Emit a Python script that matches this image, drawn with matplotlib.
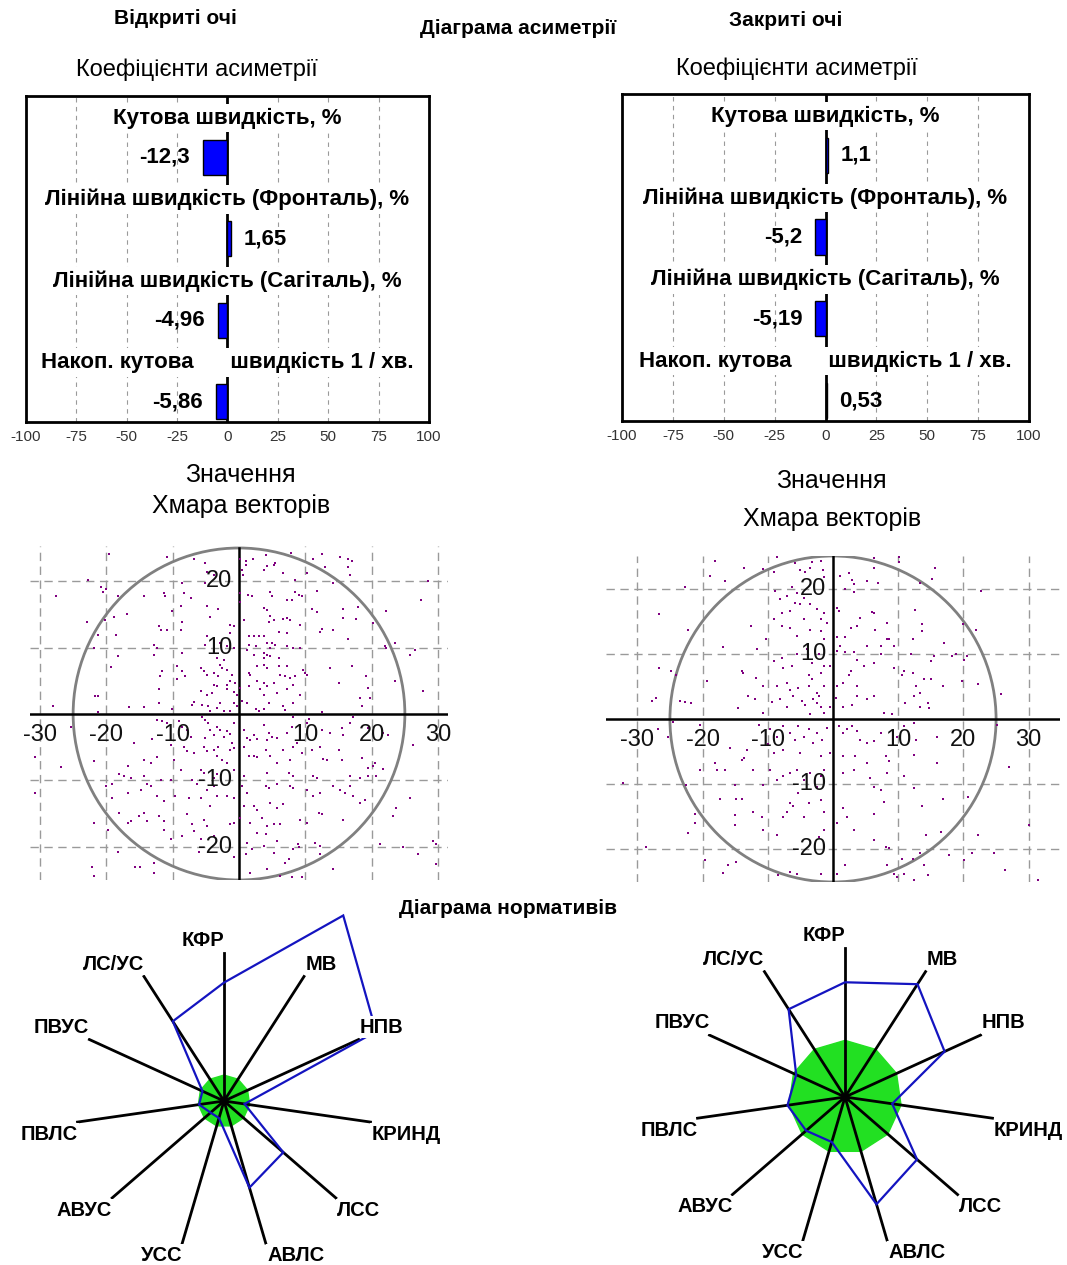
import matplotlib
matplotlib.use('Agg')
import matplotlib.pyplot as plt
import numpy as np
from matplotlib.patches import Circle, Polygon

plt.rcParams['font.family'] = ['Liberation Sans', 'DejaVu Sans']
plt.rcParams['axes.unicode_minus'] = False

W, H = 1067, 1265
fig = plt.figure(figsize=(W / 100, H / 100), dpi=100)


def px_axes(left, top, width, height):
    return fig.add_axes([left / W, 1 - (top + height) / H, width / W, height / H])


# ---------------- data ----------------
bar_categories = ['Кутова швидкість, %',
                  'Лінійна швидкість (Фронталь), %',
                  'Лінійна швидкість (Сагіталь), %',
                  'Накоп. кутова      швидкість 1 / хв.']
open_values = [-12.3, 1.65, -4.96, -5.86]
closed_values = [1.1, -5.2, -5.19, 0.53]
bar_ticks = [-100, -75, -50, -25, 0, 25, 50, 75, 100]

cloud_ticks_x = [-30, -20, -10, 10, 20, 30]
cloud_ticks_y = [-20, -10, 10, 20]
circle_radius = 25

open_cloud = [
    (-19.6, 24.1), (-10.8, 23.7), (-6.8, 23.3), (-5.1, 22.7), (0.2, 23.4), (1.1, 23.1), (2.1, 23.3), (4.0, 24.0),
    (5.5, 22.7), (5.2, 22.4), (7.9, 24.3), (11.2, 23.3), (12.5, 24.1), (13.0, 22.2), (15.2, 23.7), (16.5, 23.3),
    (17.0, 23.1), (0.5, 21.7), (1.0, 22.4), (3.7, 21.7), (4.2, 22.3), (6.7, 21.3), (16.5, 22.2), (16.7, 20.9),
    (-4.8, 21.4), (-1.6, 21.3), (-3.8, 20.9), (-5.1, 19.7), (0.6, 20.9), (8.5, 20.2), (10.2, 21.2), (14.1, 19.8),
    (-22.8, 20.2), (-20.8, 19.2), (-20.1, 18.8), (-20.5, 18.4), (-27.6, 17.8), (-18.3, 17.8), (-14.3, 17.8),
    (-11.3, 18.2), (-11.2, 17.8), (-8.6, 19.7), (-8.3, 18.2), (-7.3, 17.4), (0.2, 18.2), (1.3, 17.9), (2.0, 17.7),
    (4.7, 18.4), (5.0, 17.7), (8.5, 18.4), (9.0, 17.9), (9.5, 17.8), (11.7, 18.5), (28.5, 20.1), (27.5, 17.1),
    (-10.1, 15.5), (-8.8, 16.2), (-4.8, 16.2), (-3.1, 15.8), (-4.3, 14.6), (0.2, 16.9), (3.7, 15.9), (4.2, 15.7),
    (7.2, 17.2), (8.0, 17.1), (11.0, 15.8), (11.7, 15.4), (15.6, 15.8), (18.0, 16.1), (22.2, 15.5), (-16.9, 15.1),
    (-18.8, 14.6), (-22.9, 13.9), (-20.2, 14.1), (-8.6, 13.9), (-1.3, 13.4), (-0.8, 13.2), (0.7, 14.1), (4.7, 14.7),
    (5.2, 14.2), (6.7, 14.3), (7.2, 14.4), (7.7, 14.2), (4.5, 13.9), (9.2, 13.4), (15.7, 14.4), (17.7, 14.3),
    (20.2, 13.7),
    (-21.3, 11.9), (-18.6, 11.9), (-12.1, 13.2), (-11.8, 12.7), (-10.9, 12.7), (-8.8, 12.7), (-1.4, 12.2),
    (1.5, 11.7), (2.2, 11.8), (3.0, 11.7), (3.7, 11.7), (6.0, 12.4), (7.2, 12.2), (12.2, 12.4), (12.5, 12.8),
    (14.2, 12.6), (-4.8, 11.7), (-5.1, 10.4), (-12.8, 10.4), (-12.3, 9.9), (-21.8, 9.9), (-18.3, 8.7), (-2.8, 10.7),
    (-3.8, 9.8), (-1.8, 10.2), (-0.8, 9.9), (1.5, 10.4), (2.5, 10.2), (4.2, 10.7), (5.0, 10.7), (5.5, 10.4),
    (4.7, 9.9), (2.2, 8.9), (3.7, 9.2), (4.2, 8.9), (4.7, 8.8), (3.7, 8.4), (7.2, 10.2), (8.2, 9.9), (9.2, 9.9),
    (16.5, 11.3), (22.0, 10.2), (23.5, 10.7), (22.2, 9.9), (26.5, 9.7), (25.7, 8.9), (-8.6, 9.2), (-12.8, 8.9),
    (-3.3, 8.4), (-2.3, 8.2), (1.2, 9.7), (6.0, 8.4),
    (-19.3, 7.1), (-9.3, 7.2), (-5.8, 6.9), (-5.3, 6.4), (-2.8, 7.4), (-2.6, 6.9), (-3.8, 6.2), (-4.8, 5.8),
    (-3.1, 5.7), (-1.8, 6.7), (-1.1, 5.9), (1.5, 6.2), (1.7, 5.9), (2.7, 7.2), (3.7, 7.4), (4.2, 6.9), (6.0, 7.2),
    (7.2, 7.2), (6.2, 5.9), (7.0, 5.7), (7.7, 5.4), (8.5, 5.7), (9.7, 6.7), (10.0, 6.2), (10.2, 5.9), (13.7, 6.9),
    (17.0, 7.2), (19.2, 5.7), (-11.6, 6.4), (-11.9, 5.7), (-8.6, 6.4), (-8.1, 5.7), (-9.3, 5.2), (-3.8, 4.4),
    (-3.3, 4.2), (-1.8, 4.3), (-1.3, 4.9), (-0.6, 4.7), (0.2, 3.9), (1.5, 4.2), (2.7, 4.9), (3.7, 4.7), (4.2, 4.2),
    (5.2, 4.7), (8.2, 4.4), (15.0, 4.6), (19.5, 3.9), (23.5, 4.9), (-21.7, 2.7), (-21.3, 2.7), (-12.1, 3.7),
    (-5.8, 3.4), (-4.8, 2.9), (-4.1, 3.2), (-1.8, 3.7), (-0.8, 3.3), (-0.3, 2.9), (3.2, 3.7), (3.7, 2.9),
    (5.7, 3.2), (7.2, 3.7), (9.2, 2.9), (27.7, 3.4), (19.7, 2.4),
    (-28.1, 1.2), (-16.6, 1.0), (-14.3, 1.0), (-12.1, 1.7), (-10.1, 0.7), (-7.1, 1.4), (-6.8, 1.8), (-5.6, 1.4),
    (-4.6, 1.2), (-4.3, 0.4), (-3.3, 0.9), (-2.8, 1.7), (-2.3, 0.4), (-1.3, 0.4), (-0.8, 1.7), (-0.3, 1.2),
    (0.5, 1.9), (1.2, 1.7), (2.5, 0.7), (3.0, 0.4), (3.7, 0.7), (4.5, 1.7), (6.7, 1.2), (7.0, 0.6), (8.2, 1.7),
    (12.5, 0.3), (18.2, 2.4), (18.5, 1.2), (-21.3, 0.3),
    (-25.3, -2.0), (-12.3, -0.9), (-11.6, -1.1), (-10.8, -1.4), (-9.1, -1.1), (-8.6, -1.9), (-7.8, -2.4),
    (-7.3, -3.4), (-5.6, -0.4), (-5.1, -0.9), (-4.6, -1.4), (-4.3, -2.4), (-5.1, -3.6), (-3.8, -3.1), (-3.3, -1.9),
    (-2.8, -2.4), (-2.3, -3.4), (-1.8, -2.6), (-1.3, -3.0), (-0.8, -1.4), (-1.1, -4.4), (0.7, -2.4), (1.2, -3.6),
    (1.7, -3.9), (2.2, -3.1), (2.7, -3.8), (3.7, -1.6), (4.5, -2.9), (5.0, -3.4), (4.2, -3.9), (5.7, -3.6),
    (7.2, -2.9), (8.0, -1.9), (8.2, -0.4), (8.7, -4.4), (10.2, -1.4), (10.5, -0.8), (12.5, -2.4), (13.7, -2.9),
    (15.5, -2.1), (15.7, -3.1), (16.7, -1.4), (17.2, -0.4), (19.5, -2.1), (21.7, -2.9), (22.5, -3.1), (26.2, -4.6),
    (-15.8, -4.4), (-10.3, -4.6), (-13.1, -3.8), (-30.7, -6.5), (-26.8, -8.0),
    (-8.3, -4.9), (-7.8, -5.6), (-6.8, -5.9), (-5.3, -4.9), (-4.8, -5.6), (-3.8, -5.4), (-3.1, -4.9), (-3.3, -6.4),
    (-2.6, -6.9), (-1.8, -7.4), (-1.3, -5.4), (-0.8, -5.1), (0.7, -4.9), (1.5, -6.4), (2.2, -6.4), (2.7, -6.5),
    (4.0, -5.4), (4.7, -6.4), (5.7, -7.4), (6.7, -5.4), (8.2, -4.9), (7.7, -6.9), (9.5, -5.9), (11.0, -5.4),
    (12.2, -4.9), (12.7, -6.8), (13.2, -6.9), (15.0, -5.4), (15.5, -6.9), (18.5, -6.6), (19.5, -8.1), (20.2, -7.8),
    (21.7, -8.3), (20.5, -7.4), (-21.8, -7.1), (-16.8, -7.9), (-14.3, -6.9), (-13.3, -7.4), (-12.3, -6.5),
    (-9.8, -6.9), (-8.8, -8.4), (-5.8, -8.4), (-5.3, -8.9), (-3.8, -9.6), (-3.3, -9.1), (-0.8, -8.4), (0.7, -9.4),
    (4.2, -8.9), (7.5, -8.9), (8.2, -9.4), (11.2, -9.4), (11.7, -9.6), (16.7, -9.4), (18.2, -9.6), (19.5, -9.4),
    (-30.8, -11.9), (-20.1, -10.9), (-19.1, -10.6), (-18.1, -9.1), (-17.3, -9.4), (-16.3, -9.6), (-13.8, -10.6),
    (-13.3, -10.8), (-14.3, -9.4), (-11.8, -9.9), (-10.3, -9.9), (-7.1, -9.9), (-6.3, -10.6), (-5.8, -12.6),
    (-4.8, -11.4), (-3.8, -10.9), (-3.3, -12.4), (-1.8, -12.4), (-0.8, -12.6), (0.5, -10.9), (1.2, -11.9),
    (4.0, -10.9), (4.5, -11.1), (5.7, -10.6), (7.7, -10.9), (8.2, -11.1), (10.2, -11.4), (11.2, -12.4),
    (12.2, -11.9), (14.2, -10.9), (15.2, -11.4), (16.0, -11.9), (16.7, -10.9), (17.2, -12.4), (20.7, -9.4),
    (25.7, -12.6), (-19.1, -12.6), (-16.8, -11.9), (-14.8, -11.4), (-12.3, -12.4), (-11.3, -13.1), (-9.6, -12.4),
    (-7.6, -12.6), (-4.3, -13.9), (0.7, -13.9), (2.2, -13.9), (2.7, -14.4), (4.7, -13.4), (5.7, -14.1),
    (6.7, -13.6), (12.0, -14.9), (12.5, -15.1), (18.2, -13.4), (19.0, -12.9), (23.7, -14.1), (23.2, -15.4),
    (-18.1, -14.9), (-16.8, -16.4), (-16.3, -16.1), (-15.1, -15.4), (-14.3, -14.9), (-13.8, -16.1), (-12.1, -15.4),
    (-11.3, -16.1), (-7.8, -15.1), (-7.1, -16.6), (-6.8, -17.6), (-5.3, -15.9), (-4.8, -16.9), (-1.3, -16.6),
    (-0.8, -16.4), (0.2, -15.6), (1.7, -16.4), (3.5, -15.6), (4.2, -16.9), (5.2, -16.6), (6.2, -16.6), (9.2, -15.9),
    (10.2, -16.4), (15.7, -15.9), (-19.8, -17.4), (-21.8, -16.4), (-11.3, -17.4), (-10.2, -18.9), (-8.6, -18.4),
    (-5.8, -18.9), (-3.8, -18.4), (2.7, -17.9), (4.0, -18.1), (1.2, -19.4), (5.7, -19.1), (8.9, -19.6),
    (9.0, -20.1), (11.5, -19.4), (12.2, -19.9), (21.2, -19.6), (29.2, -19.1), (29.7, -19.6), (24.7, -20.1),
    (-18.3, -20.8), (-22.1, -23.1), (-21.8, -24.4), (-15.6, -23.1), (-14.9, -23.1), (-12.8, -22.4), (-6.1, -20.8),
    (-0.8, -21.6), (1.0, -21.1), (2.0, -20.4), (3.7, -19.9), (5.2, -20.9), (7.0, -22.4), (7.5, -21.9), (8.2, -20.4),
    (9.5, -24.6), (12.2, -21.1), (14.2, -23.4), (27.0, -21.1), (29.7, -22.6), (1.7, -23.9), (4.2, -23.4),
    (6.2, -24.4), (8.0, -24.6), (-12.8, -23.9),
]

closed_cloud = [
    (-18.1, 24.3), (-13.7, 23.1), (-10.7, 23.0), (-9.1, 22.6), (-8.6, 24.8), (-5.8, 24.0), (-5.0, 22.9),
    (-4.3, 22.5), (-3.5, 23.1), (-3.2, 24.1), (-1.9, 24.3), (-1.5, 22.9), (-1.4, 21.8), (1.0, 21.9), (2.4, 22.4),
    (2.9, 21.3), (3.2, 20.7), (1.9, 19.9), (3.2, 19.5), (5.2, 21.2), (6.3, 23.1), (6.3, 24.7), (6.9, 20.9),
    (10.1, 24.8), (10.1, 24.1), (13.4, 20.9), (15.7, 23.1), (15.2, 21.5), (22.7, 19.6), (-16.6, 21.2),
    (-18.9, 21.9), (-22.7, 20.3), (-26.7, 16.1),
    (-8.9, 19.6), (-8.1, 18.4), (-7.1, 18.9), (-6.3, 20.2), (-5.5, 19.4), (-4.5, 18.6), (-5.8, 17.8), (-5.0, 17.6),
    (-3.5, 17.6), (-2.5, 16.8), (-1.4, 16.3), (-7.8, 16.3), (-6.6, 16.6), (-4.5, 15.3), (-1.9, 15.3), (-0.9, 14.8),
    (-9.1, 15.3), (-12.5, 14.3), (-10.2, 12.2), (-7.8, 14.3), (-6.6, 14.0), (-5.5, 12.7), (-3.5, 13.7),
    (-1.9, 13.5), (-1.4, 12.2), (0.6, 17.1), (0.9, 16.6), (4.2, 15.5), (2.7, 14.0), (3.7, 14.2), (6.0, 16.4),
    (6.3, 16.3), (8.3, 14.8), (6.5, 13.7), (12.5, 16.7), (13.7, 14.5), (13.7, 13.5), (20.0, 14.5), (21.9, 13.7),
    (8.3, 12.2), (8.6, 12.2), (12.2, 12.2), (-22.3, 13.7), (0.6, 12.5), (1.9, 12.5), (17.0, 11.7),
    (-16.9, 11.0), (-11.7, 10.7), (-9.1, 8.9), (-7.8, 9.4), (-7.6, 7.8), (-6.3, 8.1), (-5.5, 9.9), (-4.0, 10.7),
    (-3.2, 8.6), (-2.2, 9.9), (-1.4, 8.1), (-3.7, 6.8), (-3.2, 6.1), (-1.9, 7.1), (-0.4, 8.1), (0.6, 10.4),
    (1.1, 11.2), (1.9, 10.2), (3.2, 10.2), (2.4, 6.8), (2.7, 7.3), (3.7, 9.1), (4.7, 8.1), (5.2, 11.2), (6.3, 8.6),
    (7.3, 9.9), (7.3, 11.2), (9.3, 11.2), (9.3, 7.8), (10.6, 6.8), (10.9, 7.3), (12.2, 7.1), (11.9, 9.9),
    (15.0, 8.9), (15.5, 9.6), (18.3, 9.6), (18.8, 9.9), (20.6, 9.6), (20.1, 9.1), (16.8, 5.0), (15.0, 6.1),
    (19.8, 5.8), (22.2, 5.4), (13.9, 6.1), (12.7, 5.0), (13.4, 4.0), (-26.7, 7.8), (-24.8, 7.3), (-24.0, 6.8),
    (-19.3, 5.9), (-14.0, 7.3), (-13.8, 7.1), (-11.8, 6.3), (-10.7, 5.0), (-8.6, 5.0), (-7.1, 5.5), (-6.6, 4.5),
    (-5.3, 4.8), (-3.7, 5.0), (-2.5, 4.0), (-2.2, 3.5), (-1.4, 5.0), (0.6, 5.0), (1.6, 5.5), (3.7, 5.0), (6.3, 3.5),
    (-27.8, 2.7), (-27.1, 3.2), (-23.5, 2.7), (-22.7, 2.6), (-21.7, 2.4), (-14.5, 1.7), (-13.1, 3.6), (-11.9, 3.0),
    (-10.7, 0.9), (-9.4, 2.6), (-8.1, 3.0), (-7.1, 1.9), (-6.1, 3.5), (-4.8, 2.7), (-4.3, 2.2), (-3.5, 0.7),
    (-3.1, 3.0), (-2.5, 2.5), (-1.9, 1.9), (-1.4, 0.9), (-0.4, 1.9), (0.4, 3.2), (1.6, 1.9), (2.9, 2.2), (3.7, 3.5),
    (5.2, 3.0), (7.8, 0.9), (9.1, 0.8), (11.1, 2.5), (12.4, 3.5), (13.4, 1.9), (14.5, 2.5), (14.7, 1.7),
    (25.7, 3.9),
    (-24.5, -0.4), (-25.3, -2.7), (-26.8, -1.6), (-20.4, -0.9), (-11.4, -0.9), (-9.6, -1.6), (-8.6, -2.7),
    (-7.6, -1.1), (-6.6, -2.2), (-5.8, -3.2), (-5.3, -1.1), (-4.5, -2.7), (-3.7, -1.6), (-3.1, -3.7), (-2.5, -2.2),
    (-1.7, -3.2), (-0.9, -1.4), (0.9, -1.1), (1.6, -2.2), (2.2, -1.6), (2.9, -1.1), (3.7, -1.9), (4.2, -3.2),
    (5.2, -3.7), (6.3, -3.4), (7.3, -2.2), (9.8, -2.7), (10.9, -1.1), (12.4, -0.6), (12.7, -3.2), (16.0, -2.7),
    (25.2, -0.9), (-15.8, -4.5), (-13.2, -4.7), (-9.9, -3.9), (-9.1, -5.2), (-7.6, -4.7), (-5.0, -5.2),
    (-1.9, -5.7), (-0.4, -5.2), (1.6, -5.7), (3.4, -5.7), (5.2, -6.8), (8.1, -5.7), (8.6, -6.5), (12.4, -5.5),
    (16.0, -6.8), (27.0, -7.4),
    (-20.4, -7.8), (-18.1, -6.8), (-17.8, -7.8), (-16.6, -7.8), (-14.0, -6.3), (-13.7, -6.0), (-12.2, -7.8),
    (-9.6, -7.8), (-8.6, -9.3), (-7.6, -8.8), (-6.6, -8.3), (-5.5, -7.8), (-4.5, -9.3), (-3.5, -8.3),
    (-2.5, -10.4), (-1.9, -8.8), (-1.4, -7.8), (-5.3, -11.4), (-6.6, -12.9), (-7.1, -14.2), (-6.1, -13.4),
    (-3.7, -12.9), (-1.9, -12.4), (-1.4, -14.2), (1.6, -8.3), (3.2, -7.8), (5.7, -9.1), (6.3, -10.4), (7.3, -10.9),
    (8.3, -8.3), (10.9, -8.8), (12.4, -10.6), (13.7, -13.3), (16.8, -12.2), (20.7, -11.9), (1.6, -13.7),
    (2.2, -15.0), (7.8, -12.7), (6.3, -14.5), (-22.5, -10.1), (-32.2, -9.8), (-15.0, -10.1), (-14.8, -12.2),
    (-14.0, -12.2), (-10.7, -10.1), (-12.2, -14.2),
    (-21.2, -14.5), (-21.2, -16.0), (-22.2, -17.5), (-15.1, -14.7), (-15.1, -16.3), (-17.3, -12.2), (-10.9, -15.0),
    (-10.7, -17.0), (-8.6, -17.8), (-7.6, -15.0), (-4.5, -15.0), (-2.2, -18.1), (-1.4, -17.0), (0.6, -16.0),
    (3.2, -17.0), (6.3, -18.6), (8.1, -19.6), (8.6, -19.8), (10.6, -21.4), (12.2, -21.4), (13.4, -20.6),
    (14.2, -17.8), (16.5, -17.3), (17.8, -20.9), (20.1, -21.6), (21.3, -20.6), (22.2, -17.8), (24.7, -20.5),
    (26.3, -23.2), (30.1, -16.3), (31.4, -24.7), (-28.6, -19.6), (-19.6, -21.6), (-16.8, -23.6), (-16.1, -22.4),
    (-14.8, -21.9), (-8.4, -23.9), (-6.6, -23.4), (-5.5, -23.7), (-1.9, -23.7), (1.9, -22.4), (8.3, -22.4),
    (9.3, -23.7), (9.8, -24.2), (10.9, -23.7), (12.4, -24.7), (14.5, -23.9), (14.0, -22.4), (0.6, -23.7),
]

radar_labels = ['КФР', 'МВ', 'НПВ', 'КРИНД', 'ЛСС', 'АВЛС', 'УСС', 'АВУС', 'ПВЛС', 'ПВУС', 'ЛС/УС']
open_radar = [0.80, 1.49, 1.13, 0.14, 0.53, 0.61, 0.12, 0.12, 0.17, 0.16, 0.64]
closed_radar = [0.77, 0.90, 0.735, 0.32, 0.64, 0.75, 0.315, 0.345, 0.39, 0.36, 0.70]
open_norm = 0.175
closed_norm = 0.38

# ---------------- styles ----------------
BLUE_BAR = '#0000ff'
PURPLE = '#800080'
GRID = '#9a9a9a'
GREEN = '#22e022'
RADAR_BLUE = '#1414c0'


def fmt(v):
    return f'{v:g}'.replace('.', ',')


def bar_panel(left, top, width, height, values):
    ax = px_axes(left, top, width, height)
    n = len(values)
    ax.set_xlim(-100, 100)
    ax.set_ylim(n, 0)
    for g in bar_ticks:
        if g not in (-100, 0, 100):
            ax.axvline(g, color=GRID, lw=0.8, ls=(0, (4, 4)), zorder=1)
    ax.axvline(0, color='black', lw=2, zorder=2)
    for i, (cat, v) in enumerate(zip(bar_categories, values)):
        ax.text(0, i + 0.27, cat, ha='center', va='center', fontsize=16, fontweight='bold',
                zorder=5, bbox=dict(fc='white', ec='none', pad=2.5))
        ax.barh(i + 0.75, v, height=0.43, color=BLUE_BAR, edgecolor='black', lw=1.0, zorder=3)
        if v < 0:
            ax.annotate(fmt(v), (v, i + 0.75), xytext=(-9, 0), textcoords='offset points',
                        ha='right', va='center', fontsize=16, fontweight='bold', zorder=5)
        else:
            ax.annotate(fmt(v), (v, i + 0.75), xytext=(9, 0), textcoords='offset points',
                        ha='left', va='center', fontsize=16, fontweight='bold', zorder=5)
    ax.set_xticks(bar_ticks)
    ax.set_yticks([])
    ax.tick_params(axis='x', length=0, labelsize=11, labelcolor='#333333', pad=6)
    for s in ax.spines.values():
        s.set_linewidth(2)
    return ax


def scatter_panel(left, top, width, height, xlim, ylim, pts):
    ax = px_axes(left, top, width, height)
    ax.set_xlim(*xlim)
    ax.set_ylim(*ylim)
    ax.axis('off')
    for g in cloud_ticks_x:
        ax.plot([g, g], ylim, color=GRID, lw=1, ls=(0, (6, 4)), zorder=1)
    for g in cloud_ticks_y:
        ax.plot(xlim, [g, g], color=GRID, lw=1, ls=(0, (6, 4)), zorder=1)
    ax.plot(xlim, [0, 0], color='black', lw=1.8, zorder=3)
    ax.plot([0, 0], [-circle_radius, circle_radius], color='black', lw=1.8, zorder=3)
    ax.add_patch(Circle((0, 0), circle_radius, fill=False, ec='#808080', lw=2, zorder=2))
    arr = np.array(pts)
    ax.plot(arr[:, 0], arr[:, 1], 's', ms=1.9, mew=0, color=PURPLE, zorder=4)
    for g in cloud_ticks_x:
        ax.text(g, -3.2, f'{g}', ha='center', va='center', fontsize=17, color='#111111', zorder=5)
    for g in cloud_ticks_y:
        ax.text(-1.0, g, f'{g}', ha='right', va='center', fontsize=17, color='#111111', zorder=5)
    return ax


def radar_panel(cx, cy, scale, values, norm):
    half = 1.6
    ax = px_axes(cx - half * scale, cy - half * scale, 2 * half * scale, 2 * half * scale)
    ax.set_xlim(-half, half)
    ax.set_ylim(-half, half)
    ax.axis('off')
    n = len(radar_labels)
    ang = np.arange(n) * 2 * np.pi / n
    sx, sy = np.sin(ang), np.cos(ang)
    ax.add_patch(Polygon(np.c_[norm * sx, norm * sy], closed=True, fc=GREEN, ec=GREEN, lw=1,
                         zorder=1, clip_on=False))
    for i in range(n):
        ax.plot([0, sx[i]], [0, sy[i]], color='black', lw=2, zorder=2, clip_on=False)
    v = np.array(values)
    ax.add_patch(Polygon(np.c_[v * sx, v * sy], closed=True, fill=False, ec=RADAR_BLUE, lw=1.6,
                         zorder=3, clip_on=False))
    ax.plot([0], [0], 'o', color='black', ms=5, zorder=4)
    for i, lab in enumerate(radar_labels):
        ha = 'left' if sx[i] > 1e-6 else 'right'
        va = 'bottom' if sy[i] > 0 else 'top'
        ax.annotate(lab, (sx[i], sy[i]), xytext=(1 if ha == 'left' else 0, 2 if va == 'bottom' else -2),
                    textcoords='offset points', ha=ha, va=va, fontsize=14.5, fontweight='bold', zorder=6,
                    bbox=dict(fc='white', ec='none', pad=1), annotation_clip=False)
    return ax


# ---------------- titles ----------------
fig.text(175 / W, 1 - 18 / H, 'Відкриті очі', ha='center', va='center', fontsize=15, fontweight='bold')
fig.text(518 / W, 1 - 29 / H, 'Діаграма асиметрії', ha='center', va='center', fontsize=15, fontweight='bold')
fig.text(786 / W, 1 - 21 / H, 'Закриті очі', ha='center', va='center', fontsize=15, fontweight='bold')
fig.text(197 / W, 1 - 70 / H, 'Коефіцієнти асиметрії', ha='center', va='center', fontsize=17)
fig.text(797 / W, 1 - 69 / H, 'Коефіцієнти асиметрії', ha='center', va='center', fontsize=17)

fig.text(241 / W, 1 - 475 / H, 'Значення', ha='center', va='center', fontsize=18)
fig.text(241 / W, 1 - 506 / H, 'Хмара векторів', ha='center', va='center', fontsize=18)
fig.text(832 / W, 1 - 481 / H, 'Значення', ha='center', va='center', fontsize=18)
fig.text(832 / W, 1 - 519 / H, 'Хмара векторів', ha='center', va='center', fontsize=18)
fig.text(508 / W, 1 - 908 / H, 'Діаграма нормативів', ha='center', va='center', fontsize=15, fontweight='bold')

# ---------------- panels ----------------
bar_panel(26, 96, 403, 326, open_values)
bar_panel(622, 94, 407, 327, closed_values)

scatter_panel(30, 546, 418, 334, (-31.5, 31.5), (-25.0, 25.3), open_cloud)
scatter_panel(606, 556, 454, 326, (-34.8, 34.8), (-25.0, 25.0), closed_cloud)

radar_panel(224, 1101, 148, open_radar, open_norm)
radar_panel(845, 1097, 149, closed_radar, closed_norm)

fig.savefig('out.png', dpi=100, facecolor='white')
